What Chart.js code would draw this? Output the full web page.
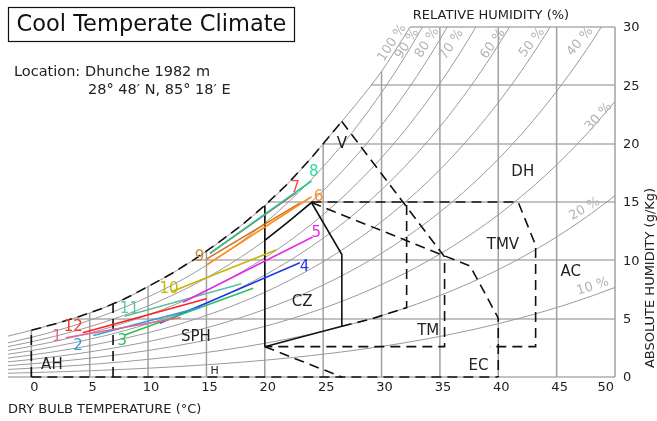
<!DOCTYPE html>
<html>
<head>
<meta charset="utf-8">
<script src="https://cdn.jsdelivr.net/npm/chart.js@4.4.0/dist/chart.umd.min.js"></script>
<style>
  html, body { margin: 0; padding: 0; background: #fff; }
  #wrap { width: 657px; height: 421px; position: relative; }
</style>
</head>
<body>
<div id="wrap"><canvas id="chart" width="657" height="421"></canvas></div>
<script>
// ---- Psychrometric background -------------------------------------------
// Dry-bulb temperature steps (°C)
const tempSteps   = [-2, 0, 2, 4, 6, 8, 10, 12, 14, 16, 18, 20, 22, 24, 26, 28, 30, 32, 34, 36, 38, 40, 42, 44, 46, 48, 50];
// Saturation vapour pressure of water (kPa) at each step
const satPressure = [0.5275, 0.6113, 0.7060, 0.8135, 0.9353, 1.0729, 1.2281, 1.4027, 1.5989, 1.8187, 2.0647,
                     2.3392, 2.6452, 2.9856, 3.3637, 3.7828, 4.2467, 4.7592, 5.3247, 5.9475, 6.6324, 7.3844,
                     8.2090, 9.1118, 10.099, 11.177, 12.352];
// Saturation line (100 %) humidity (g/kg), -2 … 34 °C
const satHumidity = [3.5, 4.0, 4.55, 5.15, 5.85, 6.7, 7.75, 8.85, 10.1, 11.5, 13.0, 14.7, 16.6, 18.8, 21.2,
                     23.6, 26.2, 29.3, 32.6];
const rhLevels    = [90, 80, 70, 60, 50, 40, 30, 20, 10];
const atmPressure = 101.325;

// Axis ticks
const xTicks = [0, 5, 10, 15, 20, 25, 30, 35, 40, 45, 50];
const yTicks = [0, 5, 10, 15, 20, 25, 30];

// ---- Monthly climate lines (min temp / humidity, max temp / humidity) ------
const months        = ['1', '2', '3', '4', '5', '6', '7', '8', '9', '10', '11', '12'];
const monthTmin     = [2.96, 5.3, 8.0, 11.0, 13.0, 15.0, 15.3, 15.3, 15.0, 12.0, 8.0, 4.4];
const monthHumTmin  = [3.37, 3.55, 3.6, 4.6, 6.4, 9.6, 10.6, 10.6, 10.1, 7.3, 5.2, 3.8];
const monthTmax     = [12.8, 14.6, 19.0, 23.0, 24.1, 24.0, 22.7, 24.0, 23.0, 21.0, 18.0, 15.0];
const monthHumTmax  = [5.1, 6.0, 7.6, 9.8, 12.0, 15.45, 15.8, 16.8, 14.9, 10.9, 8.0, 6.7];
const monthColors   = ['#e8648c', '#2a9fe0', '#2ec05a', '#2436f0', '#e62ce6', '#ff8c1e',
                       '#ff3c3c', '#22c49a', '#cc7418', '#c8b400', '#5cc0a0', '#ff2020'];
const monthLabelColors = ['#e8648c', '#2a9fe0', '#2ec05a', '#2436f0', '#e62ce6', '#ff8c1e',
                       '#ff4a4a', '#30d8a8', '#c8843a', '#c8b400', '#5cc8a8', '#ff3030'];
// label anchors in chart units
const monthLabelT   = [2.2, 4.0, 7.8, 23.4, 24.4, 24.6, 22.6, 24.2, 14.4, 11.8, 8.4, 3.6];
const monthLabelW   = [3.45, 2.65, 3.05, 9.45, 12.35, 15.45, 16.2, 17.6, 10.3, 7.5, 5.85, 4.3];

// ---- Design-strategy zone outlines (°C, g/kg) -----------------------------
const comfortZone = [[20, 2.6], [20, 11.7], [22, 13.3], [24, 14.95], [26.6, 10.5], [26.6, 4.35], [20, 2.6]];
const comfortLeftUpper = [[20, 11.7], [20, 14.7]];
const ahEdge       = [[0, 0], [0, 4.0]];
const sphEdge      = [[7, 0], [7, 6.25]];
const baseEdge     = [[0, 0], [40, 0]];
const ventZone     = [[26.6, 21.9], [27.2, 21.1], [35.4, 10.3], [35.4, 2.6], [20, 2.6]];
const evapZone     = [[24, 14.95], [37.6, 9.5], [40, 5.05], [40, 0]];
const massVentZone = [[24, 15], [41.7, 15], [43.2, 11.3], [43.2, 2.6], [39.3, 2.6]];
const massZone     = [[26.6, 4.35], [29.2, 5.0], [32.15, 5.95], [32.15, 15]];
const humidEdge    = [[20, 2.6], [26.6, 0]];

// Zone names and anchors (chart units)
const zoneNames = ['AH', 'SPH', 'H', 'CZ', 'V', 'DH', 'TMV', 'AC', 'TM', 'EC'];
const zoneT     = [1.76, 14.1, 15.7, 23.2, 26.6, 42.1, 40.4, 46.2, 34.0, 38.3];
const zoneW     = [1.05, 3.45, 0.54, 6.45, 20.0, 17.6, 11.3, 9.0, 3.9, 0.9];

// Relative humidity curve labels (chart units, rotation in degrees)
const rhLabelText = ['100 %', '90 %', '80 %', '70 %', '60 %', '50 %', '40 %', '30 %', '20 %', '10 %'];
const rhLabelT   = [30.9, 32.2, 33.9, 36.0, 39.55, 42.9, 47.0, 48.6, 47.4, 48.1];
const rhLabelW   = [28.65, 28.55, 28.65, 28.5, 28.55, 28.65, 28.75, 22.3, 14.4, 7.75];
const rhLabelRot = [-57, -57, -57, -57, -55, -52, -50, -48, -30, -17];

// humidity ratio (g/kg) of air at the given relative humidity
function humidity(p, rh) {
  const pv = p * rh / 100;
  return 622 * pv / (atmPressure - pv);
}
function rhCurve(rh) {
  return tempSteps.map((t, i) => ({ x: t, y: humidity(satPressure[i], rh) }));
}
const saturation = satHumidity.map((w, i) => ({ x: tempSteps[i], y: w }));
const toPts = arr => arr.map(([x, y]) => ({ x, y }));

const FONT = '"DejaVu Sans", "Liberation Sans", sans-serif';
const datasets = [];

// month lines
months.forEach((m, i) => {
  datasets.push({
    label: 'month ' + m,
    data: [{ x: monthTmin[i], y: monthHumTmin[i] }, { x: monthTmax[i], y: monthHumTmax[i] }],
    borderColor: monthColors[i], borderWidth: 1.6, showLine: true, pointRadius: 0,
    order: m === '7' ? 0.5 : 0
  });
});

// zone outlines
const dashed = [10, 6];
function outline(data, dash, width) {
  datasets.push({
    data, showLine: true, pointRadius: 0, borderColor: '#111', borderWidth: width || 1.6,
    borderDash: dash || [], order: 1, clip: 6, tension: 0
  });
}
outline(toPts(comfortZone));
outline(toPts(comfortLeftUpper));
outline(saturation.filter(p => p.x >= 0 && p.x <= 26).concat([{ x: 26.6, y: 21.9 }]), dashed);
outline(toPts(ahEdge), dashed);
outline(toPts(sphEdge), dashed);
outline(toPts(baseEdge), dashed);
outline(toPts(ventZone), dashed);
outline(toPts(evapZone), dashed);
outline(toPts(massVentZone), dashed);
outline(toPts(massZone), dashed);
outline(toPts(humidEdge), dashed);

// saturation curve and relative humidity curves
datasets.push({
  data: saturation, showLine: true, pointRadius: 0, borderColor: '#9a9a9a', borderWidth: 1,
  cubicInterpolationMode: 'monotone', order: 2, isSaturation: true
});
rhLevels.forEach(rh => {
  datasets.push({
    data: rhCurve(rh), showLine: true, pointRadius: 0, borderColor: '#9a9a9a', borderWidth: 1,
    cubicInterpolationMode: 'monotone', order: 2
  });
});

const px = (chart, v) => chart.scales.x.getPixelForValue(v);
const py = (chart, v) => chart.scales.y.getPixelForValue(v);

// Grid restricted to the region under the saturation curve
const gridPlugin = {
  id: 'psychroGrid',
  beforeDatasetsDraw(chart) {
    const ctx = chart.ctx;
    const satIndex = chart.data.datasets.findIndex(d => d.isSaturation);
    const pts = chart.getDatasetMeta(satIndex).data;
    const xs = chart.scales.x, ys = chart.scales.y;
    ctx.save();
    ctx.beginPath();
    ctx.moveTo(pts[0].x, pts[0].y);
    for (let i = 1; i < pts.length; i++) {
      const a = pts[i - 1], b = pts[i];
      ctx.bezierCurveTo(a.cp2x, a.cp2y, b.cp1x, b.cp1y, b.x, b.y);
    }
    ctx.lineTo(xs.getPixelForValue(50) + 3, -2000);
    ctx.lineTo(xs.getPixelForValue(50) + 3, ys.getPixelForValue(0) + 3);
    ctx.lineTo(xs.getPixelForValue(-2) - 3, ys.getPixelForValue(0) + 3);
    ctx.closePath();
    ctx.clip();

    ctx.lineCap = 'butt';
    // horizontal grid
    ctx.strokeStyle = '#c2c2c2';
    ctx.lineWidth = 2;
    yTicks.forEach(v => {
      const y = Math.round(ys.getPixelForValue(v));
      ctx.beginPath();
      ctx.moveTo(xs.getPixelForValue(-2), y);
      ctx.lineTo(xs.getPixelForValue(50), y);
      ctx.stroke();
    });
    // vertical grid
    ctx.strokeStyle = '#a0a0a0';
    ctx.lineWidth = 1.5;
    xTicks.forEach(v => {
      const x = xs.getPixelForValue(v);
      ctx.beginPath();
      ctx.moveTo(x, ys.getPixelForValue(0));
      ctx.lineTo(x, ys.getPixelForValue(30));
      ctx.stroke();
    });
    ctx.restore();
  },
  afterDraw(chart) {
    const ctx = chart.ctx;
    const xs = chart.scales.x, ys = chart.scales.y;
    ctx.save();
    ctx.fillStyle = '#222';
    ctx.textBaseline = 'middle';

    // x tick labels
    ctx.font = '13px ' + FONT;
    xTicks.forEach(v => {
      const x = xs.getPixelForValue(v);
      if (v === 50) { ctx.textAlign = 'right'; ctx.fillText(String(v), x - 1, 388); }
      else { ctx.textAlign = 'center'; ctx.fillText(String(v), x + 3, 388); }
    });
    // y tick labels
    ctx.textAlign = 'left';
    yTicks.forEach(v => {
      const y = ys.getPixelForValue(v);
      ctx.fillText(String(v), xs.getPixelForValue(50) + 8, y + 1);
    });

    // axis titles
    ctx.font = '13px ' + FONT;
    ctx.textAlign = 'left';
    ctx.fillText('DRY BULB TEMPERATURE (°C)', 8, 410);
    ctx.textAlign = 'center';
    ctx.fillText('RELATIVE HUMIDITY (%)', 491, 16);
    ctx.save();
    ctx.translate(651, 278);
    ctx.rotate(-Math.PI / 2);
    ctx.fillText('ABSOLUTE HUMIDITY (g/Kg)', 0, 0);
    ctx.restore();

    // title box and location
    ctx.lineWidth = 1.2;
    ctx.strokeStyle = '#111';
    ctx.strokeRect(8.5, 7.5, 286, 34);
    ctx.font = '22.5px ' + FONT;
    ctx.textAlign = 'center';
    ctx.fillStyle = '#111';
    ctx.fillText('Cool Temperate Climate', 151.5, 25);
    ctx.font = '14.5px ' + FONT;
    ctx.textAlign = 'left';
    ctx.fillStyle = '#222';
    ctx.fillText('Location:', 14, 72);
    ctx.fillText('Dhunche 1982 m', 85, 72);
    ctx.fillText('28° 48′ N, 85° 18′ E', 88, 90);

    // relative humidity labels
    ctx.fillStyle = '#b4b4b4';
    ctx.font = '13px ' + FONT;
    ctx.textAlign = 'center';
    rhLabelText.forEach((txt, i) => {
      ctx.save();
      ctx.translate(px(chart, rhLabelT[i]), py(chart, rhLabelW[i]));
      ctx.rotate(rhLabelRot[i] * Math.PI / 180);
      ctx.fillText(txt, 0, 0);
      ctx.restore();
    });

    // zone names
    ctx.fillStyle = '#222';
    zoneNames.forEach((z, i) => {
      ctx.font = (z === 'H' ? '11px ' : '15px ') + FONT;
      ctx.fillText(z, px(chart, zoneT[i]), py(chart, zoneW[i]));
    });

    // month numbers
    ctx.font = '15px ' + FONT;
    months.forEach((m, i) => {
      ctx.fillStyle = monthLabelColors[i];
      ctx.fillText(m, px(chart, monthLabelT[i]), py(chart, monthLabelW[i]));
    });
    ctx.restore();
  }
};

new Chart(document.getElementById('chart'), {
  type: 'scatter',
  data: { datasets },
  options: {
    responsive: false,
    animation: false,
    layout: { padding: { left: 8, right: 42, top: 27, bottom: 44 } },
    plugins: { legend: { display: false }, tooltip: { enabled: false } },
    elements: { line: { borderCapStyle: 'butt' } },
    scales: {
      x: { type: 'linear', min: -2, max: 50, display: false },
      y: { type: 'linear', min: 0, max: 30, display: false }
    }
  },
  plugins: [gridPlugin]
});
</script>
</body>
</html>
